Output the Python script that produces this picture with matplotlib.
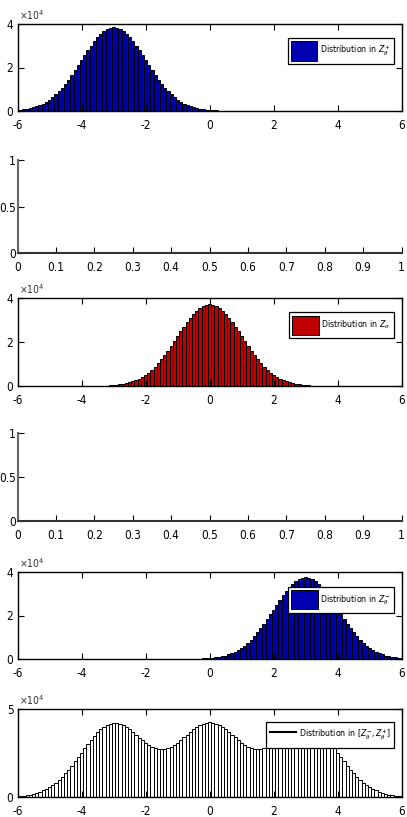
import matplotlib
matplotlib.use("Agg")
import matplotlib.pyplot as plt
import numpy as np
from matplotlib import font_manager
from matplotlib.lines import Line2D

# ---------------- data (counts in units of 1e4) ----------------
bin_width = 0.1

z_plus_start = -6.0
z_plus_counts = [
    0.043, 0.057, 0.076, 0.10, 0.13, 0.17, 0.22, 0.27, 0.34, 0.42,
    0.52, 0.63, 0.76, 0.91, 1.07, 1.25, 1.44, 1.65, 1.87, 2.10,
    2.34, 2.57, 2.80, 3.01, 3.22, 3.40, 3.55, 3.68, 3.77, 3.83,
    3.85,
    3.83, 3.77, 3.68, 3.55, 3.40, 3.22, 3.01, 2.80, 2.57, 2.34,
    2.10, 1.87, 1.65, 1.44, 1.25, 1.07, 0.91, 0.76, 0.63, 0.52,
    0.42, 0.34, 0.27, 0.22, 0.17, 0.13, 0.10, 0.076, 0.057, 0.043,
    0.032, 0.023, 0.017, 0.012, 0.008, 0.006, 0.004, 0.003, 0.002, 0.0013,
    0.001, 0.001, 0.001, 0.001, 0.001,
]

z_sigma_start = -4.6
z_sigma_counts = [
    0.001, 0.001, 0.001, 0.001, 0.001, 0.001, 0.001, 0.002, 0.003, 0.004,
    0.006, 0.008, 0.012, 0.016, 0.022, 0.031, 0.041, 0.055, 0.074, 0.10,
    0.13, 0.16, 0.21, 0.26, 0.33, 0.41, 0.50, 0.61, 0.74, 0.88,
    1.03, 1.21, 1.40, 1.60, 1.81, 2.03, 2.26, 2.48, 2.70, 2.91,
    3.11, 3.28, 3.43, 3.56, 3.65, 3.70,
    3.72,
    3.70, 3.65, 3.56, 3.43, 3.28, 3.11, 2.91, 2.70, 2.48, 2.26,
    2.03, 1.81, 1.60, 1.40, 1.21, 1.03, 0.88, 0.74, 0.61, 0.50,
    0.41, 0.33, 0.26, 0.21, 0.16, 0.13, 0.10, 0.074, 0.055, 0.041,
    0.031, 0.022, 0.016, 0.012, 0.008, 0.006, 0.004, 0.003, 0.002, 0.001,
    0.001, 0.001, 0.001, 0.001, 0.001, 0.001, 0.001, 0.001,
]

z_minus_start = -1.7
z_minus_counts = [
    0.001, 0.001, 0.001, 0.001, 0.001, 0.001, 0.001, 0.001, 0.002, 0.003,
    0.004, 0.006, 0.008, 0.012, 0.016, 0.023, 0.031, 0.042, 0.056, 0.074,
    0.10, 0.13, 0.16, 0.21, 0.27, 0.33, 0.41, 0.51, 0.62, 0.74,
    0.88, 1.04, 1.22, 1.41, 1.61, 1.83, 2.05, 2.27, 2.50, 2.72,
    2.94, 3.13, 3.31, 3.46, 3.59, 3.68, 3.73,
    3.75,
    3.73, 3.68, 3.59, 3.46, 3.31, 3.13, 2.94, 2.72, 2.50, 2.27,
    2.05, 1.83, 1.61, 1.41, 1.22, 1.04, 0.88, 0.74, 0.62, 0.51,
    0.41, 0.33, 0.27, 0.21, 0.16, 0.13, 0.10, 0.074, 0.056, 0.042,
]

z_all_start = -6.0
z_all_counts = [
    0.05, 0.06, 0.08, 0.11, 0.14, 0.18, 0.23, 0.29, 0.37, 0.46,
    0.56, 0.68, 0.82, 0.98, 1.15, 1.35, 1.56, 1.78, 2.02, 2.27,
    2.52, 2.77, 3.02, 3.25, 3.47, 3.67, 3.84, 3.99, 4.09, 4.16,
    4.20,
    4.19, 4.15, 4.08, 3.97, 3.84, 3.70, 3.54, 3.38, 3.23, 3.08,
    2.95, 2.84, 2.76, 2.71, 2.70, 2.71, 2.76, 2.84, 2.95, 3.08,
    3.23, 3.39, 3.55, 3.71, 3.85, 3.98, 4.09, 4.17, 4.23,
    4.24,
    4.23, 4.17, 4.09, 3.98, 3.85, 3.71, 3.55, 3.39, 3.23, 3.08,
    2.95, 2.84, 2.76, 2.71, 2.70, 2.71, 2.76, 2.84, 2.95, 3.08,
    3.23, 3.38, 3.54, 3.70, 3.84, 3.97, 4.08, 4.15, 4.19,
    4.20,
    4.16, 4.09, 3.99, 3.84, 3.67, 3.47, 3.25, 3.02, 2.77, 2.52,
    2.27, 2.02, 1.78, 1.56, 1.35, 1.15, 0.98, 0.82, 0.68, 0.56,
    0.46, 0.37, 0.29, 0.23, 0.18, 0.14, 0.11, 0.08, 0.06, 0.05,
]

hist_xticks = [-6, -4, -2, 0, 2, 4, 6]
empty_xticks = [0, 0.1, 0.2, 0.3, 0.4, 0.5, 0.6, 0.7, 0.8, 0.9, 1]
empty_xlabels = ["0", "0.1", "0.2", "0.3", "0.4", "0.5", "0.6", "0.7", "0.8", "0.9", "1"]
empty_yticks = [0, 0.5, 1]
empty_ylabels = ["0", "0.5", "1"]

legend_labels = [
    r"Distribution in $Z^{+}_{\theta}$",
    r"Distribution in $Z_{\sigma}$",
    r"Distribution in $Z^{-}_{\theta}$",
    r"Distribution in $[Z^{-}_{\theta},Z^{+}_{\theta}]$",
]

# ---------------- style ----------------
entries = font_manager.fontManager.ttflist
names = {f.name for f in entries}
stretch = "normal"
if "Liberation Sans Narrow" in names:
    fam = "Liberation Sans Narrow"
elif any(f.name == "DejaVu Sans" and str(f.stretch) in ("condensed", "semi-condensed", "75", "87")
         for f in entries):
    fam = "DejaVu Sans"
    stretch = "condensed"
elif "Roboto Condensed" in names:
    fam = "Roboto Condensed"
elif "Roboto" in names:
    fam = "Roboto"
else:
    fam = "Liberation Sans"
plt.rcParams["font.family"] = [fam, "DejaVu Sans"]
plt.rcParams["font.stretch"] = stretch
plt.rcParams["mathtext.fontset"] = "custom"
plt.rcParams["mathtext.rm"] = fam
plt.rcParams["mathtext.it"] = fam + ":italic"

W, H = 407, 817
fig = plt.figure(figsize=(W / 100, H / 100), dpi=100)

def ax_at(left, top, right, bottom):
    return fig.add_axes([left / W, 1 - bottom / H, (right - left) / W, (bottom - top) / H])

TICK_FS = 8.5
BLUE = "#0000b0"
RED = "#c00000"

def hist_panel(ax, start, counts, face, ymax, yticks, label, legend_anchor, line_handle=False):
    x = start + bin_width * np.arange(len(counts))
    bars = ax.bar(x, counts, width=bin_width, color=face, edgecolor="black",
                  linewidth=0.7, align="center")
    ax.set_xlim(-6, 6)
    ax.set_ylim(0, ymax)
    ax.set_xticks(hist_xticks)
    ax.set_xticklabels([str(t) for t in hist_xticks])
    ax.set_yticks(yticks)
    ax.set_yticklabels([str(t) for t in yticks])
    ax.tick_params(direction="in", length=4.5, width=0.8, top=True, right=True,
                   labelsize=TICK_FS)
    ax.tick_params(axis="x", pad=6)
    ax.tick_params(axis="y", pad=3)
    for s in ax.spines.values():
        s.set_linewidth(1.0)
        s.set_color("black")
    ax.text(0.005, 1.02, r"$\times10^{4}$", transform=ax.transAxes, fontsize=7.5,
            ha="left", va="bottom", color="#333333")
    if line_handle:
        h = [Line2D([0], [0], color="black", linewidth=1.5)]
    else:
        h = [bars]
    leg = ax.legend(h, [label], loc="upper right", bbox_to_anchor=legend_anchor,
                    borderaxespad=0, fontsize=6.3, frameon=True, fancybox=False,
                    handlelength=3.0, handleheight=3.0, handletextpad=0.3,
                    borderpad=0.4, edgecolor="black", framealpha=1)
    leg.get_frame().set_linewidth(0.9)
    return ax

def empty_panel(ax):
    ax.set_xlim(0, 1)
    ax.set_ylim(0, 1)
    ax.set_xticks(empty_xticks)
    ax.set_xticklabels(empty_xlabels)
    ax.set_yticks(empty_yticks)
    ax.set_yticklabels(empty_ylabels)
    ax.spines["top"].set_visible(False)
    ax.spines["right"].set_visible(False)
    ax.spines["left"].set_color("#666666")
    ax.spines["bottom"].set_color("#333333")
    ax.spines["left"].set_linewidth(1.5)
    ax.spines["bottom"].set_linewidth(1.5)
    ax.tick_params(direction="in", length=4.5, width=0.8, labelsize=TICK_FS)
    ax.tick_params(axis="x", pad=6)
    ax.tick_params(axis="y", pad=1)

ax1 = ax_at(17.5, 24, 401.5, 111)
hist_panel(ax1, z_plus_start, z_plus_counts, BLUE, 4, [0, 2, 4], legend_labels[0], (0.98, 0.84))

ax2 = ax_at(17.5, 160, 401.5, 253)
empty_panel(ax2)

ax3 = ax_at(17.5, 298, 401.5, 386)
hist_panel(ax3, z_sigma_start, z_sigma_counts, RED, 4, [0, 2, 4], legend_labels[1], (0.98, 0.84))

ax4 = ax_at(17.5, 433, 401.5, 521)
empty_panel(ax4)

ax5 = ax_at(17.5, 572, 401.5, 659)
hist_panel(ax5, z_minus_start, z_minus_counts, BLUE, 4, [0, 2, 4], legend_labels[2], (0.98, 0.83))

ax6 = ax_at(17.5, 709, 401.5, 797)
hist_panel(ax6, z_all_start, z_all_counts, "white", 5, [0, 5], legend_labels[3], (0.98, 0.85),
           line_handle=True)

fig.savefig("out.png", dpi=100)
